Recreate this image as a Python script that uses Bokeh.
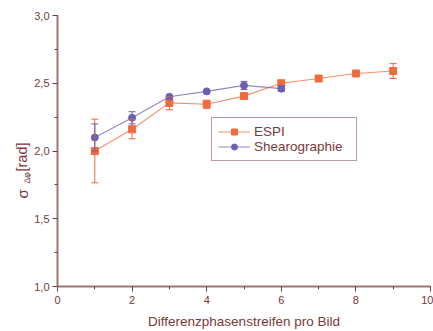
import math
from bokeh.plotting import figure
from bokeh.layouts import row
from bokeh.models import (ColumnDataSource, Whisker, TeeHead, FixedTicker, Label,
                          Range1d, Legend, LegendItem)
from bokeh.embed import file_html
from bokeh.resources import INLINE

# ---- data ----
espi_x = [1, 2, 3, 4, 5, 6, 7, 8, 9]
espi_y = [2.00, 2.16, 2.355, 2.345, 2.405, 2.50, 2.535, 2.572, 2.59]
espi_err = [0.235, 0.07, 0.05, 0.03, 0.02, 0.01, 0.01, 0.01, 0.055]

shear_x = [1, 2, 3, 4, 5, 6]
shear_y = [2.10, 2.245, 2.40, 2.44, 2.484, 2.46]
shear_err = [0.10, 0.045, 0.01, 0.01, 0.03, 0.02]

x_ticks = [0, 2, 4, 6, 8, 10]
y_ticks = [1.0, 1.5, 2.0, 2.5, 3.0]
y_tick_labels = ["1,0", "1,5", "2,0", "2,5", "3,0"]

ESPI_C = "#f26a3d"
SHEAR_C = "#6b60b2"
AXIS_C = "#a07474"
TEXT_C = "#7a3838"
FONT = "Liberation Sans"

SIDE_W = 31

p = figure(width=433 - SIDE_W, height=331, output_backend="svg", toolbar_location=None,
           x_range=Range1d(0, 10), y_range=Range1d(1, 3),
           min_border_left=57 - SIDE_W, min_border_right=3, min_border_top=15,
           min_border_bottom=43)
p.outline_line_color = None
p.xgrid.visible = False
p.ygrid.visible = False

def src(xs, ys, es):
    return ColumnDataSource(dict(x=xs, y=ys, lo=[a - b for a, b in zip(ys, es)],
                                 hi=[a + b for a, b in zip(ys, es)]))

es = src(espi_x, espi_y, espi_err)
ss = src(shear_x, shear_y, shear_err)

for s, c in ((es, ESPI_C), (ss, SHEAR_C)):
    w = Whisker(source=s, base="x", lower="lo", upper="hi", line_color=c, line_width=1,
                level="glyph",
                upper_head=TeeHead(size=7, line_color=c, line_width=1),
                lower_head=TeeHead(size=7, line_color=c, line_width=1))
    p.add_layout(w)

l1 = p.line("x", "y", source=es, line_color=ESPI_C, line_width=1.1, line_alpha=0.75)
m1 = p.scatter("x", "y", source=es, marker="square", size=7, fill_color=ESPI_C,
               line_color=ESPI_C)
l2 = p.line("x", "y", source=ss, line_color=SHEAR_C, line_width=1.1, line_alpha=0.75)
m2 = p.scatter("x", "y", source=ss, marker="circle", size=7, fill_color=SHEAR_C,
               line_color=SHEAR_C)

legend = Legend(items=[LegendItem(label="ESPI", renderers=[l1, m1]),
                       LegendItem(label="Shearographie", renderers=[l2, m2])],
                location=(154, 125), border_line_color=TEXT_C, border_line_width=1,
                label_text_font=FONT, label_text_font_size="13.5px",
                label_text_color=TEXT_C, glyph_width=32, glyph_height=15,
                label_height=15, label_width=96, label_standoff=4,
                spacing=0, padding=6, margin=0, background_fill_alpha=1)
p.add_layout(legend, "center")

for ax in (p.xaxis[0], p.yaxis[0]):
    ax.axis_line_color = AXIS_C
    ax.axis_line_width = 2
    ax.major_tick_line_color = TEXT_C
    ax.minor_tick_line_color = TEXT_C
    ax.major_tick_in = 0
    ax.major_tick_out = 5
    ax.minor_tick_in = 0
    ax.minor_tick_out = 3
    ax.major_label_text_font = FONT
    ax.major_label_text_font_size = "11px"
    ax.major_label_text_color = TEXT_C
    ax.axis_label_text_font = FONT
    ax.axis_label_text_font_style = "normal"
    ax.axis_label_text_color = TEXT_C

p.xaxis.ticker = FixedTicker(ticks=x_ticks, minor_ticks=list(range(0, 11)))
p.yaxis.ticker = FixedTicker(ticks=y_ticks, minor_ticks=[1 + 0.25 * i for i in range(9)])
p.yaxis.major_label_overrides = {t: l for t, l in zip(y_ticks, y_tick_labels)}
p.xaxis.axis_label = "Differenzphasenstreifen pro Bild"
p.xaxis.axis_label_text_font_size = "13.5px"
p.xaxis.axis_label_standoff = 7
p.xaxis.major_label_standoff = 4
p.yaxis.major_label_standoff = 3

# narrow side panel carrying the y-axis title (with subscript);
# its frame is aligned with the main frame (bottom at 43px from the page bottom)
t = figure(width=SIDE_W, height=331, output_backend="svg", toolbar_location=None,
           x_range=Range1d(0, 1), y_range=Range1d(0, 1),
           min_border_left=0, min_border_right=0, min_border_top=0,
           min_border_bottom=0)
t.axis.visible = False
t.grid.visible = False
t.outline_line_color = None
t.add_layout(Label(x=22, y=88, x_units="screen", y_units="screen", text="σ",
                   angle=math.pi / 2, text_font=FONT, text_font_size="15px",
                   text_color=TEXT_C, text_baseline="alphabetic", text_align="left"))
t.add_layout(Label(x=26, y=103, x_units="screen", y_units="screen", text="Δφ",
                   angle=math.pi / 2, text_font=FONT, text_font_size="8.5px",
                   text_color=TEXT_C, text_baseline="alphabetic", text_align="left"))
t.add_layout(Label(x=21.5, y=115, x_units="screen", y_units="screen", text="[rad]",
                   angle=math.pi / 2, text_font=FONT, text_font_size="14.5px",
                   text_color=TEXT_C, text_baseline="alphabetic", text_align="left"))

layout = row(t, p, spacing=0)
open("out.html", "w").write(file_html(layout, INLINE))
